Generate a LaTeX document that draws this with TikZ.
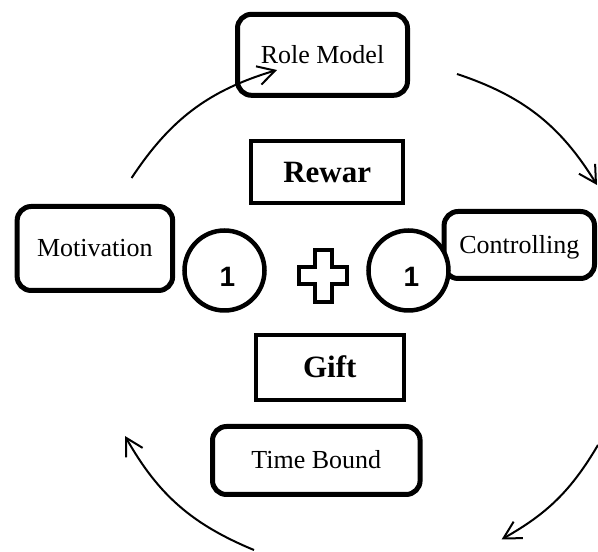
\documentclass[tikz,border=0pt]{standalone}
\usepackage{fontspec}
\setmainfont{Liberation Serif}
\newfontfamily\digitfont{Liberation Sans}
\usetikzlibrary{arrows.meta}
\begin{document}
\begin{tikzpicture}[x=1pt,y=1pt,
  roundbox/.style={draw=black, line width=5pt, rounded corners=14pt, fill=white, inner sep=0pt,
    text height=17pt, text depth=0pt, font=\fontsize{26}{30}\selectfont},
  sqbox/.style={draw=black, line width=4pt, fill=white, inner sep=0pt,
    text height=20.5pt, text depth=0pt, font=\fontsize{31}{36}\selectfont\bfseries},
  numcirc/.style={draw=black, circle, line width=4.5pt, fill=white, minimum size=80pt, inner sep=0pt,
    font=\digitfont\fontsize{28}{32}\selectfont, text height=33pt, text depth=0pt},
  plusshape/.style={draw=black, line width=4pt, fill=white, miter limit=10},
  cyc/.style={line width=2pt, -{Straight Barb[length=17pt,width=19pt]}}
]
\useasboundingbox (0,0) rectangle (598,552);

\node[roundbox, minimum width=170pt, minimum height=81pt] (rolemodel) at (322.5,497.2) {Role Model};
\node[roundbox, minimum width=155.5pt, minimum height=84pt] (motivation) at (94.9,303.5) {Motivation};
\node[roundbox, minimum width=150.4pt, minimum height=67pt] (controlling) at (519.3,307) {Controlling};
\node[sqbox, minimum width=151.7pt, minimum height=61.7pt] (rewar) at (327.2,379.8) {Rewar};
\node[sqbox, minimum width=148.4pt, minimum height=65pt] (gift) at (329.8,184.5) {Gift};
\node[roundbox, minimum width=207.6pt, minimum height=68pt] (timebound) at (316.3,91.5) {Time Bound};

\node[numcirc] (one1) at (224.5,281.5) {\hspace*{6pt}\textbf{1}};
\node[numcirc] (one2) at (408.5,281.5) {\hspace*{6pt}\textbf{1}};

\coordinate (plusc) at (323,276);
\draw[plusshape, shift={(plusc)}]
  (-8.5,26) -- (8.5,26) -- (8.5,8.5) -- (24,8.5) -- (24,-8.5) -- (8.5,-8.5) -- (8.5,-26)
  -- (-8.5,-26) -- (-8.5,-8.5) -- (-24,-8.5) -- (-24,8.5) -- (-8.5,8.5) -- cycle;

\coordinate (a1s) at (131.6,374);
\coordinate (a1e) at (277,482);
\coordinate (a2s) at (457,478);
\coordinate (a2e) at (597,367);
\coordinate (a3s) at (598,107);
\coordinate (a3e) at (501.7,12.7);
\coordinate (a4s) at (254,2);
\coordinate (a4e) at (125,116);

\draw[cyc] (a1s) to[bend left=20] (a1e);
\draw[cyc] (a2s) to[bend left=20] (a2e);
\draw[cyc] (a3s) to[bend left=15] (a3e);
\draw[cyc] (a4s) to[bend left=19] (a4e);
\end{tikzpicture}
\end{document}
